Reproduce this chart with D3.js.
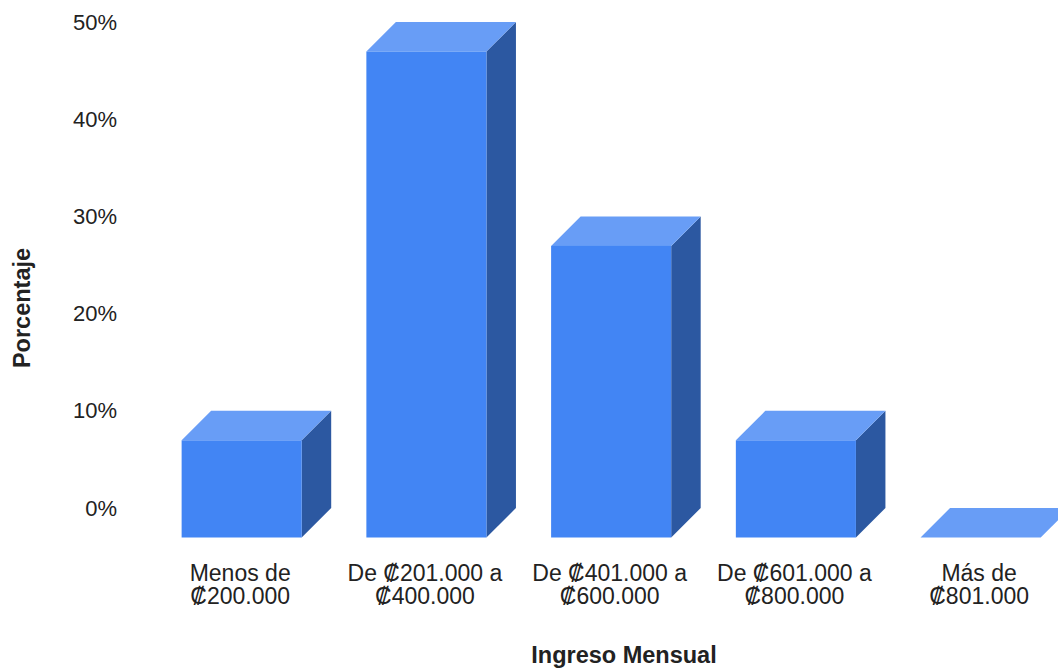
<!DOCTYPE html>
<html>
<head>
<meta charset="utf-8">
<script src="https://cdn.jsdelivr.net/npm/d3@7"></script>
<style>
  html, body { margin: 0; padding: 0; background: #fff; }
  svg { display: block; font-family: "Liberation Sans", Arial, sans-serif; }
</style>
</head>
<body>
<svg id="chart" width="1058" height="668"></svg>
<script>
// Monthly income distribution (percent of respondents)
const categories = [
  ["Menos de", "₡200.000"],
  ["De ₡201.000 a", "₡400.000"],
  ["De ₡401.000 a", "₡600.000"],
  ["De ₡601.000 a", "₡800.000"],
  ["Más de", "₡801.000"]
];
const values = [10, 50, 30, 10, 0];
const yTicks = [0, 10, 20, 30, 40, 50];

const depth = 29.5;          // 3D extrusion offset (right and up)
const colors = { front: "#4285f4", top: "#689df6", side: "#2c58a1" };
const textColor = "#222";

const svg = d3.select("#chart");

const keys = categories.map(c => c.join(" "));
const x = d3.scaleBand()
  .domain(keys)
  .range([149.3, 1073])
  .paddingInner(0.35)
  .paddingOuter(0.175);

// back-plane scale; front faces sit `depth` px lower
const y = d3.scaleLinear().domain([0, 50]).range([508, 22]);

// y tick labels
const yAxis = d3.axisLeft(y)
  .tickValues(yTicks)
  .tickFormat(d => d + "%")
  .tickSize(0)
  .tickPadding(0);
const gy = svg.append("g").attr("transform", "translate(117,0)").call(yAxis);
gy.select(".domain").remove();
gy.selectAll("text")
  .attr("font-size", 22)
  .attr("font-family", "Liberation Sans, Arial, sans-serif")
  .attr("fill", textColor);

// 3D bars
const bars = svg.append("g").selectAll("g.bar")
  .data(values.map((v, i) => ({ key: keys[i], v })))
  .join("g").attr("class", "bar");

bars.each(function(d) {
  const g = d3.select(this);
  const x0 = x(d.key), x1 = x0 + x.bandwidth();
  const yb = y(0) + depth, yt = y(d.v) + depth;
  const dx = depth, dy = -depth;
  // right side face
  if (d.v > 0) {
    g.append("path")
      .attr("d", `M${x1},${yt} L${x1 + dx},${yt + dy} L${x1 + dx},${yb + dy} L${x1},${yb} Z`)
      .attr("fill", colors.side);
  }
  // top face
  g.append("path")
    .attr("d", `M${x0},${yt} L${x0 + dx},${yt + dy} L${x1 + dx},${yt + dy} L${x1},${yt} Z`)
    .attr("fill", colors.top);
  // front face
  if (d.v > 0) {
    g.append("rect")
      .attr("x", x0).attr("y", yt)
      .attr("width", x.bandwidth()).attr("height", yb - yt)
      .attr("fill", colors.front);
  }
});

// category labels (two lines)
const labels = svg.append("g").selectAll("text")
  .data(categories.map((c, i) => ({ lines: c, key: keys[i] })))
  .join("text")
  .attr("text-anchor", "middle")
  .attr("font-size", 23)
  .attr("fill", textColor)
  .attr("transform", d => `translate(${x(d.key) + x.bandwidth() / 2 - 1.5},0)`);
labels.selectAll("tspan")
  .data(d => d.lines)
  .join("tspan")
  .attr("x", 0)
  .attr("y", (d, i) => 581 + i * 23)
  .text(d => d);

// axis titles
svg.append("text")
  .attr("x", 624).attr("y", 663)
  .attr("text-anchor", "middle")
  .attr("font-size", 23.5).attr("font-weight", "bold")
  .attr("fill", textColor)
  .text("Ingreso Mensual");

svg.append("text")
  .attr("transform", "translate(30,308) rotate(-90)")
  .attr("text-anchor", "middle")
  .attr("font-size", 23.5).attr("font-weight", "bold")
  .attr("fill", textColor)
  .text("Porcentaje");
</script>
</body>
</html>
